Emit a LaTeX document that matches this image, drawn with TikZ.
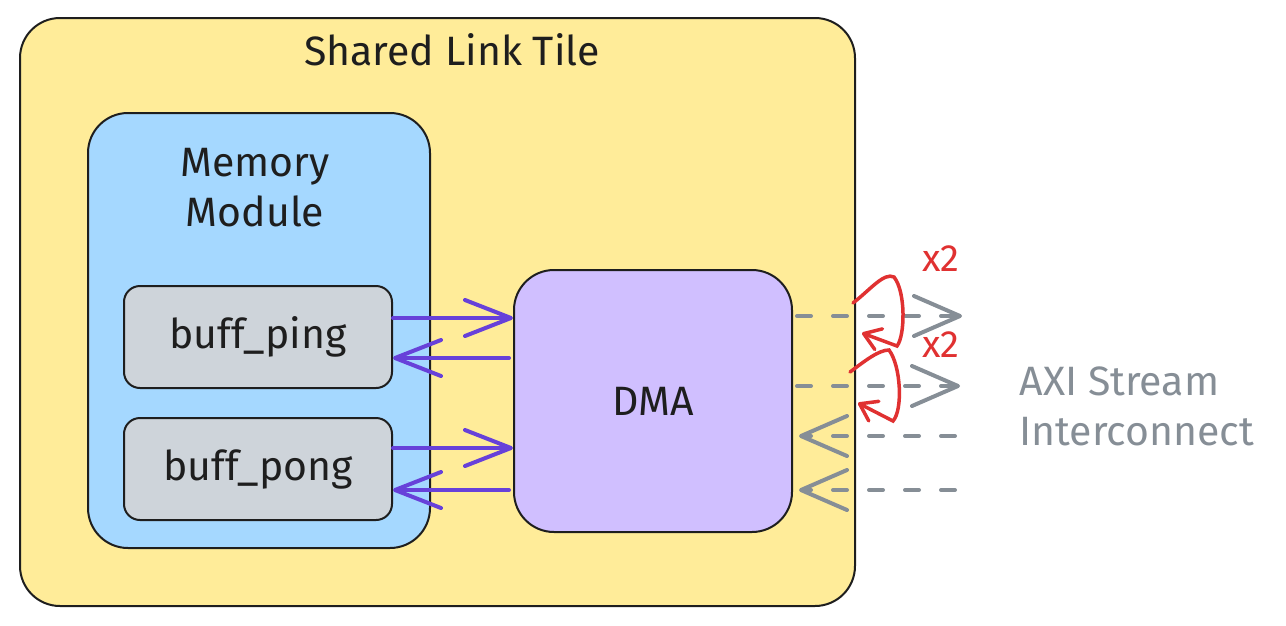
\documentclass[tikz,border=0pt]{standalone}
\usepackage{fontspec}
\setmainfont{Fira Sans}
\usetikzlibrary{arrows.meta,positioning}
\definecolor{tileyellow}{HTML}{FFEC99}
\definecolor{memblue}{HTML}{A5D8FF}
\definecolor{bufgrey}{HTML}{CED4DA}
\definecolor{dmaviolet}{HTML}{D0BFFF}
\definecolor{flowpurple}{HTML}{6741D9}
\definecolor{axigrey}{HTML}{868E96}
\definecolor{noteRed}{HTML}{E03131}
\definecolor{ink}{HTML}{1E1E1E}
\tikzset{
  block/.style={rectangle, draw=ink, line width=2pt, rounded corners=40pt, text=ink},
  bufbox/.style={rectangle, draw=ink, line width=2pt, rounded corners=16pt, fill=bufgrey, minimum width=268pt, minimum height=102pt, text=ink},
  label/.style={font=\fontsize{41}{50}\selectfont, text=ink, align=center},
  flow/.style={line width=4pt, draw=flowpurple, line cap=round, -{Straight Barb[round, length=46pt, width=36pt]}},
  axi/.style={line width=4pt, draw=axigrey, line cap=round, dash pattern=on 14pt off 22pt, -{Straight Barb[round, length=46pt, width=40pt]}},
  repeat/.style={line width=3.5pt, draw=noteRed, line cap=round, -{Straight Barb[round, length=16pt, width=22pt]}}
}
\begin{document}
\begin{tikzpicture}[x=1pt, y=-1pt]
    \useasboundingbox (0,0) rectangle (1286,625);

    % --- Bloques ---
    \node (tile) [block, fill=tileyellow, minimum width=835pt, minimum height=588pt] at (437.5,312) {};
    \node (title) [label] at (452,50) {Shared Link Tile};

    \node (mem) [block, fill=memblue, minimum width=342pt, minimum height=435pt] at (259,330.5) {};
    \node (memtitle) [label] at (255,188) {Memory\\Module};

    \node (ping) [bufbox] at (258,337) {};
    \node [label] at (ping) {buff\_ping};
    \node (pong) [bufbox, below=28pt of ping] {};
    \node [label] at (pong) {buff\_pong};

    \node (dma) [block, fill=dmaviolet, minimum width=278pt, minimum height=262pt] at (653,401) {};
    \node [label] at (dma) {DMA};

    \node (axitext) [label, text=axigrey, align=left, anchor=west] at (1016,406) {AXI Stream\\Interconnect};

    % Filas de las flechas
    \coordinate (r1) at (0,318);
    \coordinate (r2) at (0,358);
    \coordinate (r3) at (0,448);
    \coordinate (r4) at (0,490);
    \coordinate (o1) at (962,316);
    \coordinate (o2) at (960,386);
    \coordinate (i1) at (955,436);
    \coordinate (i2) at (955,490);

    % --- Buffers <-> DMA ---
    \draw [flow] (ping.east |- r1) -- (dma.west |- r1);
    \draw [flow] ([xshift=-4pt]dma.west |- r2) -- (ping.east |- r2);
    \draw [flow] (pong.east |- r3) -- (dma.west |- r3);
    \draw [flow] ([xshift=-4pt]dma.west |- r4) -- (pong.east |- r4);

    % --- DMA <-> AXI Stream ---
    \draw [axi] ([xshift=4pt]dma.east |- o1) -- (o1);
    \draw [axi] ([xshift=4pt]dma.east |- o2) -- (o2);
    \draw [axi] (i1) -- ([xshift=6pt]dma.east |- i1);
    \draw [axi] (i2) -- ([xshift=6pt]dma.east |- i2);

    % Anotaciones x2
    \draw [repeat] (853,303) .. controls (870,290) and (884,272) .. (894,277) .. controls (906,292) and (905,336) .. (897,346) -- (862,333);
    \draw [repeat] (850,372) .. controls (866,360) and (879,350) .. (889,350) .. controls (901,366) and (903,410) .. (893,421) -- (858,403);
    \node (rep1) [label, text=noteRed, font=\fontsize{38}{40}\selectfont] at (941,259) {x2};
    \node (rep2) [label, text=noteRed, font=\fontsize{38}{40}\selectfont] at (941,345) {x2};
\end{tikzpicture}
\end{document}
